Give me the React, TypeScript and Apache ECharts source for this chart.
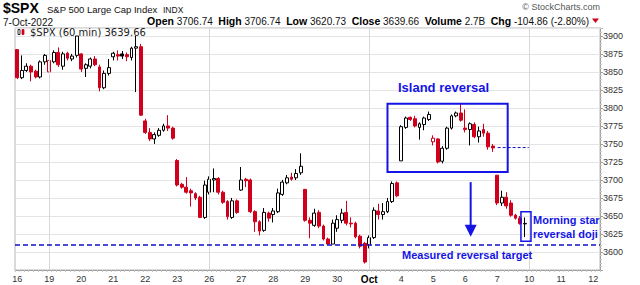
import React, { useEffect, useRef } from 'react';
import * as echarts from 'echarts';

// ---- data ----
const dayLabels = ['16', '19', '20', '21', '22', '23', '26', '27', '28', '29', '30', 'Oct', '4', '5', '6', '7', '10', '11', '12'];
const barsPerDay = 7;
const totalSlots = 128;
const weekStartDays = [1, 6, 11, 16];
const priorClose = 3901.35;

const opens = [
  3881, 3842, 3852, 3858, 3851, 3843, 3864,
  3850, 3864, 3877, 3858, 3876, 3868, 3873,
  3875, 3855, 3858, 3868, 3857, 3828, 3848,
  3871, 3874, 3875, 3874, 3870, 3883, 3885,
  3782, 3766, 3757, 3762, 3769, 3775, 3772,
  3727, 3694, 3690, 3685, 3681, 3676, 3648,
  3683, 3700, 3702, 3683, 3670, 3648, 3671,
  3686, 3701, 3700, 3656, 3642, 3630, 3654,
  3652, 3656, 3680, 3696, 3704, 3703, 3710,
  3687, 3644, 3637, 3655, 3636, 3618, 3611,
  3633, 3644, 3655, 3640, 3640, 3622, 3612,
  3610, 3620, 3657, 3652, 3656, 3670, 3696,
  3726.5, 3773, 3787, 3785, 3773, 3777, 3784,
  3753, 3757, 3726, 3744, 3772, 3789, 3793,
  3772, 3770, 3777, 3760, 3770, 3765, 3747,
  3706.7, 3668, 3676, 3668, 3651, 3647, 3639,
];
const highs = [
  3881, 3873, 3862, 3860, 3853, 3866, 3875,
  3872, 3880, 3884, 3878, 3878, 3875, 3900,
  3876, 3862, 3870, 3872, 3860, 3852, 3868,
  3878, 3880, 3879, 3877, 3885, 3900, 3889,
  3785, 3772, 3766, 3772, 3778, 3790, 3774,
  3729, 3696, 3704, 3688, 3683, 3678, 3699,
  3705, 3716, 3704, 3685, 3672, 3675, 3673,
  3718, 3703, 3702, 3658, 3644, 3661, 3656,
  3661, 3688, 3700, 3707, 3710, 3715, 3737,
  3687, 3648, 3660, 3658, 3638, 3620, 3645,
  3651, 3660, 3671, 3648, 3642, 3624, 3614,
  3623, 3662, 3667, 3668, 3675, 3698, 3698,
  3776, 3788, 3788, 3789, 3780, 3788, 3795,
  3762, 3758, 3747, 3774, 3791, 3795, 3807,
  3798, 3780, 3780, 3774, 3778, 3768, 3750,
  3706.7, 3685, 3683, 3672, 3653, 3650, 3648,
];
const lows = [
  3840, 3840, 3850, 3837, 3841, 3841, 3860,
  3838, 3862, 3857, 3853, 3866, 3865, 3870,
  3850, 3843, 3855, 3858, 3823, 3826, 3845,
  3866, 3866, 3868, 3865, 3866, 3822, 3789,
  3764, 3754, 3750, 3760, 3767, 3768, 3756,
  3691, 3688, 3681, 3663, 3672, 3647, 3646,
  3680, 3683, 3680, 3667, 3645, 3646, 3653,
  3685, 3690, 3654, 3628, 3623, 3628, 3642,
  3641, 3654, 3678, 3694, 3699, 3700, 3707,
  3642, 3619, 3635, 3633, 3616, 3610.4, 3611,
  3628, 3640, 3637, 3634, 3619, 3605, 3584,
  3605, 3618, 3645, 3645, 3654, 3668, 3676,
  3726.5, 3771, 3782, 3773, 3756, 3769, 3782,
  3748, 3723, 3723, 3742, 3770, 3787, 3781,
  3766, 3748, 3758, 3752, 3760, 3742, 3739,
  3665, 3664, 3660, 3649, 3645, 3638, 3620.73,
];
const closes = [
  3842, 3852, 3858, 3850, 3843, 3864, 3873,
  3866, 3877, 3860, 3875, 3869, 3872, 3899.9,
  3854, 3860, 3868, 3860, 3828, 3848, 3856,
  3876, 3872, 3872, 3871, 3883, 3885, 3790,
  3766, 3757, 3763, 3769, 3775, 3772, 3758,
  3693, 3690, 3683, 3682, 3675, 3648, 3693,
  3701, 3702, 3683, 3669, 3649, 3671, 3655,
  3700, 3699, 3656, 3642, 3629, 3655, 3647,
  3657, 3682, 3697, 3703, 3701, 3709, 3719,
  3644, 3640, 3654, 3636, 3618, 3611, 3640,
  3645, 3654, 3640, 3639, 3621, 3608, 3586,
  3620, 3658, 3652, 3656, 3670, 3695, 3678,
  3774, 3786, 3784, 3775, 3778, 3786, 3791,
  3758, 3725, 3744, 3772, 3789, 3793, 3783,
  3770, 3778, 3760, 3768, 3765, 3746, 3744.5,
  3668, 3676, 3664, 3651, 3647, 3639.4, 3639.66,
];

const measuredTarget = 3610;
const islandLevel = 3745;

// annotation anchors (bar index / price)
const islandBox = { from: 81, to: 107.3, top: 3806, bottom: 3711 };
const dojiBox = { from: 110.2, to: 112.4, top: 3656, bottom: 3615 };
const islandDash = { from: 105.1, to: 111.9 };
const arrow = { at: 99.2, top: 3697, tip: 3621 };

const RED = '#d0001c';
const BLUE = '#1414e6';
const DBLUE = '#1010c8';
const SANS = 'Liberation Sans, Arial, sans-serif';

export default function App() {
  const ref = useRef<HTMLDivElement>(null);

  useEffect(() => {
    const el = ref.current;
    if (!el) return;
    const chart = echarts.init(el, null, { renderer: 'svg' });

    const categories: string[] = [];
    for (let s = 0; s < totalSlots; s++) {
      categories.push(dayLabels[Math.floor(s / barsPerDay)] + '|' + (s % barsPerDay));
    }

    const candles = opens.map((o, i) => {
      const prev = i === 0 ? priorClose : closes[i - 1];
      const stroke = closes[i] >= prev ? '#000000' : RED;
      const fill = closes[i] > o ? '#ffffff' : stroke;
      return {
        value: [o, closes[i], lows[i], highs[i]],
        itemStyle: { color: fill, color0: fill, borderColor: stroke, borderColor0: stroke, borderWidth: 1 },
      };
    });

    const option: any = {
      animation: false,
      backgroundColor: '#ffffff',
      grid: { left: 15, right: 40, top: 28, bottom: 15, show: true, borderColor: '#b4b4b4', borderWidth: 1 },
      xAxis: {
        type: 'category',
        data: categories,
        boundaryGap: true,
        axisLine: { show: true, lineStyle: { color: '#a0a0a0' } },
        axisTick: { show: true, interval: 0, length: 2, lineStyle: { color: '#c4c4c4' } },
        axisLabel: {
          interval: (idx: number) => idx % barsPerDay === 0,
          formatter: (v: string) => {
            const d = v.split('|')[0];
            return d === 'Oct' ? '{b|Oct}' : d;
          },
          fontSize: 9,
          fontFamily: SANS,
          color: '#333',
          margin: 4,
          rich: { b: { fontWeight: 'bold', fontSize: 10, color: '#000', fontFamily: SANS } },
        },
        splitLine: { show: false },
      },
      yAxis: {
        type: 'value',
        position: 'right',
        min: 3575,
        max: 3911,
        interval: 25,
        axisLine: { show: true, lineStyle: { color: '#a0a0a0' } },
        axisTick: { show: true, length: 3, lineStyle: { color: '#a0a0a0' } },
        minorTick: { show: true, splitNumber: 5, length: 2, lineStyle: { color: '#c8c8c8' } },
        axisLabel: {
          fontSize: 9,
          fontFamily: SANS,
          color: '#333',
          margin: 3,
          formatter: (v: number) => (v % 25 === 0 && v >= 3600 && v <= 3900 ? String(v) : ''),
        },
        splitLine: { show: true, lineStyle: { color: '#e4e4e4' } },
      },
      series: [
        {
          type: 'line',
          data: [],
          z: 1,
          markLine: {
            silent: true,
            symbol: 'none',
            label: { show: false },
            lineStyle: { color: '#d8d8d8', type: 'solid', width: 1 },
            data: weekStartDays.map((d) => ({ xAxis: categories[d * barsPerDay] })),
          },
        },
        {
          type: 'candlestick',
          z: 3,
          barWidth: '74%',
          data: candles,
          markLine: {
            silent: true,
            symbol: 'none',
            label: { show: false },
            lineStyle: { color: DBLUE, type: [5, 3], width: 1.5 },
            data: [{ yAxis: measuredTarget }],
          },
        },
      ],
    };
    chart.setOption(option);

    const P = (i: number, v: number) => chart.convertToPixel({ gridIndex: 0 }, [i, v]) as number[];
    const x0 = P(0, 3700)[0];
    const dx = P(1, 3700)[0] - x0;
    const X = (i: number) => x0 + i * dx;
    const Y = (v: number) => P(0, v)[1];

    const ax = X(arrow.at);
    const tipY = Y(arrow.tip);

    const graphic: any[] = [
      // header
      { type: 'text', x: 3, y: 8, style: { text: '$SPX', font: `bold 14px ${SANS}`, fill: '#000', verticalAlign: 'middle' } },
      { type: 'text', x: 47, y: 9.5, style: { text: 'S&P 500 Large Cap Index', font: `9.5px ${SANS}`, fill: '#111', verticalAlign: 'middle' } },
      { type: 'text', x: 163, y: 9.5, style: { text: 'INDX', font: `8.5px ${SANS}`, fill: '#111', verticalAlign: 'middle' } },
      { type: 'text', x: 3, y: 22, style: { text: '7-Oct-2022', font: `10px ${SANS}`, fill: '#111', verticalAlign: 'middle' } },
      {
        type: 'text',
        x: 589,
        y: 21,
        style: {
          text: '{b|Open} 3706.74  {b|High} 3706.74  {b|Low} 3620.73  {b|Close} 3639.66  {b|Volume} 2.7B  {b|Chg} -104.86 (-2.80%)',
          font: `10px ${SANS}`,
          fill: '#111',
          align: 'right',
          verticalAlign: 'middle',
          rich: { b: { fontWeight: 'bold', fontSize: 10.5, fontFamily: SANS, fill: '#000' } },
        },
      },
      { type: 'polygon', shape: { points: [[592, 18.5], [599, 18.5], [595.5, 23]] }, style: { fill: RED } },
      { type: 'text', x: 600, y: 7, style: { text: '© StockCharts.com', font: `9px ${SANS}`, fill: '#555', align: 'right', verticalAlign: 'middle' } },
      // legend inside plot
      { type: 'rect', shape: { x: 18, y: 29.5, width: 2, height: 5 }, style: { fill: '#fff', stroke: '#000', lineWidth: 0.8 } },
      { type: 'rect', shape: { x: 22, y: 29.5, width: 2, height: 5 }, style: { fill: RED, stroke: RED, lineWidth: 0.8 } },
      { type: 'text', x: 30, y: 32, style: { text: '$SPX (60 min) 3639.66', font: `10px DejaVu Sans, sans-serif`, fill: '#222', verticalAlign: 'middle' } },
      // island reversal
      {
        type: 'rect',
        shape: { x: X(islandBox.from), y: Y(islandBox.top), width: X(islandBox.to) - X(islandBox.from), height: Y(islandBox.bottom) - Y(islandBox.top) },
        style: { fill: 'none', stroke: BLUE, lineWidth: 2 },
        z: 10,
      },
      { type: 'text', x: 398, y: 87, style: { text: 'Island reversal', font: `bold 13px ${SANS}`, fill: BLUE, verticalAlign: 'middle' }, z: 10 },
      {
        type: 'line',
        shape: { x1: X(islandDash.from), y1: Y(islandLevel), x2: X(islandDash.to), y2: Y(islandLevel) },
        style: { stroke: DBLUE, lineWidth: 1, lineDash: [3, 2] },
        z: 10,
      },
      // arrow
      { type: 'line', shape: { x1: ax, y1: Y(arrow.top), x2: ax, y2: tipY - 8 }, style: { stroke: BLUE, lineWidth: 2 }, z: 10 },
      { type: 'polygon', shape: { points: [[ax - 6, tipY - 12], [ax + 6, tipY - 12], [ax, tipY]] }, style: { fill: BLUE }, z: 10 },
      // doji box
      {
        type: 'rect',
        shape: { x: X(dojiBox.from), y: Y(dojiBox.top), width: X(dojiBox.to) - X(dojiBox.from), height: Y(dojiBox.bottom) - Y(dojiBox.top) },
        style: { fill: 'none', stroke: BLUE, lineWidth: 1.5 },
        z: 10,
      },
      { type: 'text', x: 533, y: 220, style: { text: 'Morning star', font: `bold 11px ${SANS}`, fill: BLUE, verticalAlign: 'middle' }, z: 10 },
      { type: 'text', x: 533, y: 234, style: { text: 'reversal doji', font: `bold 11px ${SANS}`, fill: BLUE, verticalAlign: 'middle' }, z: 10 },
      { type: 'text', x: 402, y: 255, style: { text: 'Measured reversal target', font: `bold 11px ${SANS}`, fill: BLUE, verticalAlign: 'middle' }, z: 10 },
    ];
    chart.setOption({ graphic });

    return () => chart.dispose();
  }, []);

  return <div ref={ref} style={{ position: 'absolute', left: 0, top: 0, width: 640, height: 285, background: '#fff' }} />;
}
